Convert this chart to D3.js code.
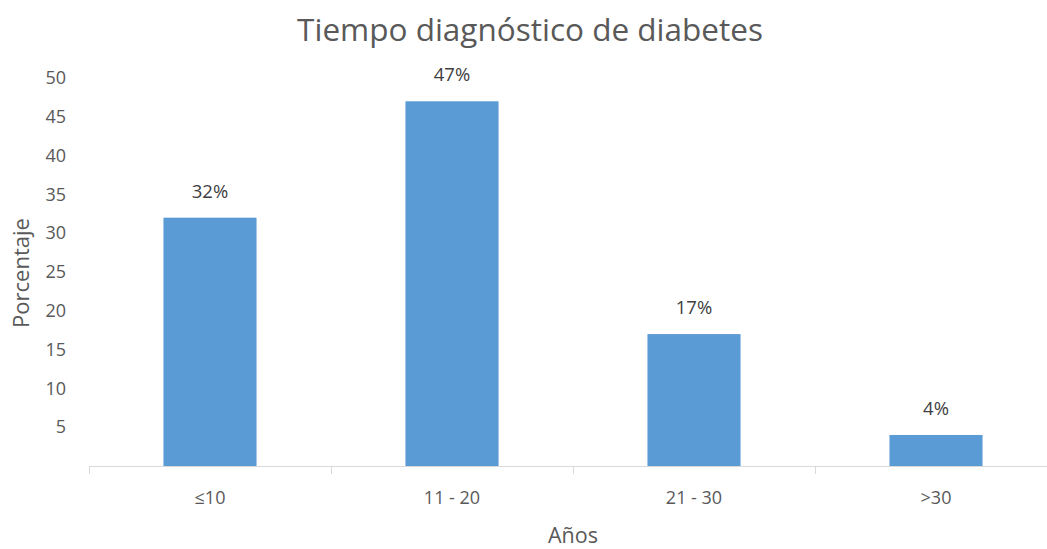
<!DOCTYPE html>
<html>
<head>
<meta charset="utf-8">
<script src="https://cdn.jsdelivr.net/npm/d3@7"></script>
<style>
  html, body { margin: 0; padding: 0; background: #ffffff; }
  svg { display: block; font-family: "Open Sans", "Noto Sans", sans-serif; }
</style>
</head>
<body>
<svg id="chart" width="1047" height="549"></svg>
<script>
// Diabetes diagnosis time, share of patients by years since diagnosis
const categories = ["≤10", "11 - 20", "21 - 30", ">30"];
const percentages = [32, 47, 17, 4];
const yTicks = [5, 10, 15, 20, 25, 30, 35, 40, 45, 50];
const title = "Tiempo diagnóstico de diabetes";
const xTitle = "Años";
const yTitle = "Porcentaje";

const svg = d3.select("#chart");
const plot = { left: 89, right: 1057, top: 78, bottom: 466 };

// Category slots, then a narrower bar centred in each slot
const xCat = d3.scaleBand().domain(categories).range([plot.left, plot.right]).padding(0);
const x = d3.scaleBand().domain(categories).range([plot.left, plot.right])
  .paddingInner(1.6 / 2.6).paddingOuter(0.8 / 2.6);
const y = d3.scaleLinear().domain([0, 50]).range([plot.bottom, plot.top]);

// Title
svg.append("text")
  .attr("x", 530).attr("y", 41)
  .attr("text-anchor", "middle")
  .attr("font-size", 31.5)
  .attr("fill", "#595959")
  .text(title);

// Y axis labels only (no line, no ticks)
const yAxis = svg.append("g")
  .attr("transform", `translate(${plot.left - 23},0)`)
  .call(d3.axisLeft(y).tickValues(yTicks).tickSize(0).tickPadding(0));
yAxis.select(".domain").remove();
yAxis.selectAll("text")
  .attr("font-family", "'Open Sans', sans-serif")
  .attr("font-size", 18)
  .attr("fill", "#595959");

// Bars
svg.append("g").selectAll("rect")
  .data(percentages)
  .join("rect")
  .attr("x", (d, i) => x(categories[i]))
  .attr("y", d => y(d))
  .attr("width", x.bandwidth())
  .attr("height", d => y(0) - y(d))
  .attr("fill", "#5b9bd5");

// Value labels
svg.append("g").selectAll("text")
  .data(percentages)
  .join("text")
  .attr("x", (d, i) => x(categories[i]) + x.bandwidth() / 2)
  .attr("y", d => y(d) - 20)
  .attr("text-anchor", "middle")
  .attr("font-size", 18.5)
  .attr("fill", "#404040")
  .text(d => d + "%");

// X axis: baseline with ticks at slot boundaries
const xAxisG = svg.append("g");
xAxisG.append("line")
  .attr("x1", plot.left).attr("x2", plot.right)
  .attr("y1", plot.bottom + 0.5).attr("y2", plot.bottom + 0.5)
  .attr("stroke", "#d9d9d9").attr("stroke-width", 1);
const bounds = categories.map(c => xCat(c)).concat([plot.right]);
xAxisG.selectAll("line.tick")
  .data(bounds)
  .join("line")
  .attr("class", "tick")
  .attr("x1", d => Math.round(d) + 0.5).attr("x2", d => Math.round(d) + 0.5)
  .attr("y1", plot.bottom).attr("y2", plot.bottom + 8)
  .attr("stroke", "#d9d9d9").attr("stroke-width", 1);
xAxisG.selectAll("text")
  .data(categories)
  .join("text")
  .attr("x", d => xCat(d) + xCat.bandwidth() / 2)
  .attr("y", 504)
  .attr("text-anchor", "middle")
  .attr("font-size", 18)
  .attr("fill", "#595959")
  .text(d => d);

// Axis titles
svg.append("text")
  .attr("x", 573).attr("y", 543)
  .attr("text-anchor", "middle")
  .attr("font-size", 21.5)
  .attr("fill", "#595959")
  .text(xTitle);

svg.append("text")
  .attr("transform", "translate(29,273) rotate(-90)")
  .attr("text-anchor", "middle")
  .attr("font-size", 22)
  .attr("fill", "#595959")
  .text(yTitle);
</script>
</body>
</html>
